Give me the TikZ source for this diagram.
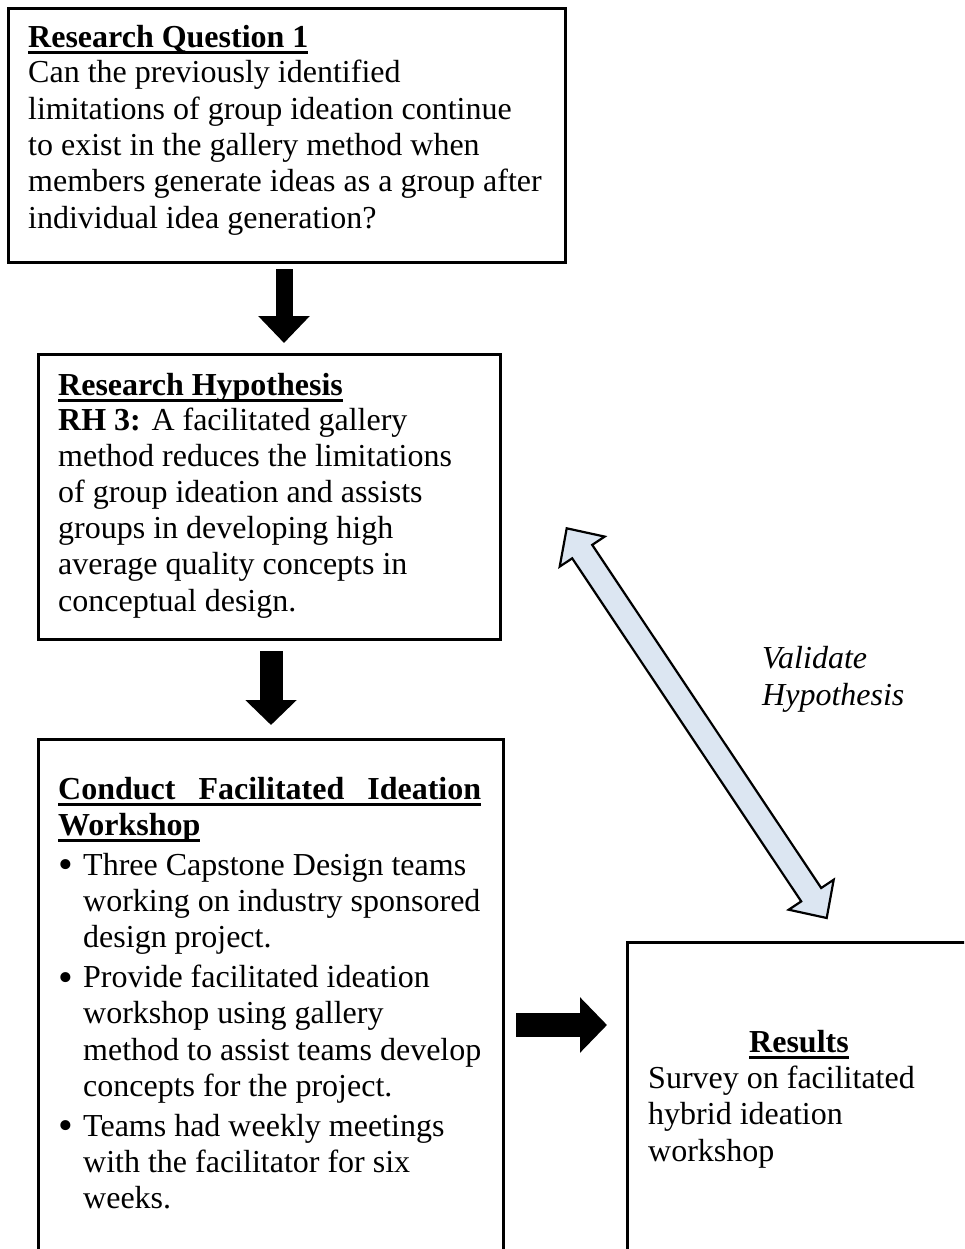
\documentclass[tikz,border=0pt]{standalone}
\usepackage{fontspec}
\setmainfont{Liberation Serif}
\usetikzlibrary{arrows.meta}
\definecolor{arrowblue}{HTML}{DCE6F2}
% heavy underline at a fixed depth below the baseline
\newsavebox\ulsave
\newcommand\ulbar[1]{\leavevmode\sbox\ulsave{#1}\rlap{\rule[-6.5pt]{\wd\ulsave}{2.8pt}}\usebox\ulsave}
\newcommand\bigdot{\raisebox{-3.6pt}{\fontsize{42}{42}\selectfont\textbullet}}
\newcommand\bulletitem{\hangindent=25pt\hangafter=1\makebox[25pt][l]{\bigdot}}
\begin{document}
\begin{tikzpicture}[x=1pt,y=-1pt,
  frame/.style={draw=black, line width=2.6pt, anchor=north west, inner sep=0pt},
  txt/.style={anchor=base west, inner sep=0pt},
  body/.style={font=\fontsize{32}{36.4}\selectfont},
  blockarrow/.style={draw=black, line width=#1},
  dblarrow/.style={draw=black, line width=2.2pt, fill=arrowblue, line join=miter}
]
\useasboundingbox (0,0) rectangle (964,1249);
\begin{scope}
\clip (0,0) rectangle (964,1249);

% boxes
\node[frame, minimum width=557pt, minimum height=254pt] (rq) at (7,7) {};
\node[frame, minimum width=462pt, minimum height=285pt] (rh) at (37,353) {};
\node[frame, minimum width=465pt, minimum height=600pt] (ws) at (37,738) {};
\node[frame, minimum width=400pt, minimum height=400pt] (res) at (626,941) {};

% box texts
\node[txt, body] (rqtext) at (28,47.7) {\parbox[t]{530pt}{%
\ulbar{\textbf{Research Question 1}}\\[-1.4pt]
Can the previously identified\\
limitations of group ideation continue\\
to exist in the gallery method when\\
members generate ideas as a group after\\
individual idea generation?}};

\node[txt, body] (rhtext) at (58,395) {\parbox[t]{440pt}{%
\fontsize{32}{36.2}\selectfont
\ulbar{\textbf{Research Hypothesis}}\\[-1.2pt]
\textbf{RH 3:} A facilitated gallery\\
method reduces the limitations\\
of group ideation and assists\\
groups in developing high\\
average quality concepts in\\
conceptual design.}};

\node[txt, body] (wstext) at (58,799) {\parbox[t]{440pt}{%
\fontsize{32}{36.2}\selectfont\setlength\parskip{3.8pt}%
\ulbar{\textbf{\makebox[423pt][s]{Conduct Facilitated Ideation}}}\\
\ulbar{\textbf{Workshop}}\par
\bulletitem Three Capstone Design teams\\
working on industry sponsored\\
design project.\par
\bulletitem Provide facilitated ideation\\
workshop using gallery\\
method to assist teams develop\\
concepts for the project.\par
\bulletitem Teams had weekly meetings\\
with the facilitator for six\\
weeks.}};

\node[anchor=base, inner sep=0pt, body] (restitle) at (799,1052) {\ulbar{\textbf{Results}}};
\node[txt, body] (restext) at (648,1088) {\parbox[t]{300pt}{%
\fontsize{32}{36.8}\selectfont
Survey on facilitated\\
hybrid ideation\\
workshop}};

\node[txt, body] (validate) at (762,668) {\parbox[t]{200pt}{%
\fontsize{32}{37}\selectfont\itshape
Validate\\
Hypothesis}};

% solid block arrows between the stages
\coordinate (a1s) at (284,269);
\coordinate (a1e) at (284,343);
\coordinate (a2s) at (271,651);
\coordinate (a2e) at (271,725);
\coordinate (a3s) at (516,1025);
\coordinate (a3e) at (607,1025);
\draw[blockarrow=17pt, -{Triangle[width=50pt,length=27pt]}] (a1s) -- (a1e);
\draw[blockarrow=23pt, -{Triangle[width=50pt,length=25pt]}] (a2s) -- (a2e);
\draw[blockarrow=24pt, -{Triangle[width=54pt,length=27pt]}] (a3s) -- (a3e);

% two-headed validation arrow
\coordinate (v1) at (566.7,528.3);
\coordinate (v2) at (826.7,918.0);
\draw[dblarrow] (v1) -- (604.7,536.6) -- (592.2,544.9) -- (821.2,888.0)
  -- (833.7,879.7) -- (v2) -- (788.7,909.7) -- (801.2,901.4)
  -- (572.2,558.3) -- (559.7,566.6) -- cycle;
\end{scope}
\end{tikzpicture}
\end{document}
